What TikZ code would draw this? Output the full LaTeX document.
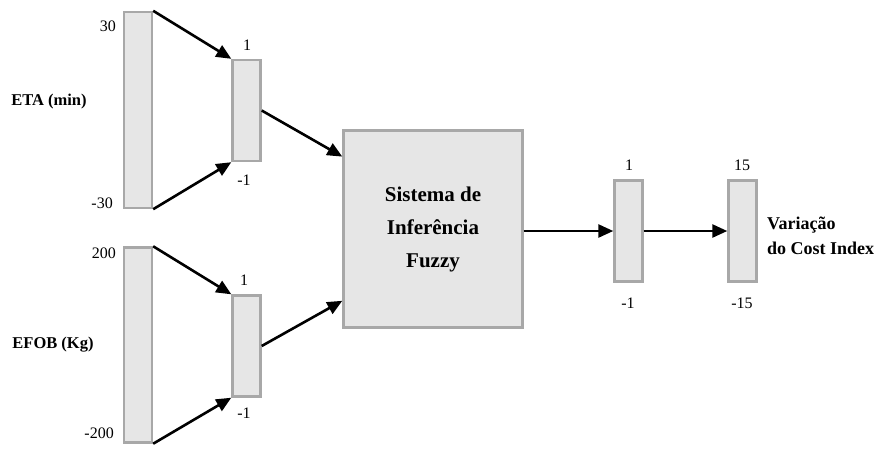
\documentclass[tikz,border=0pt]{standalone}
\usepackage{fontspec}
\setmainfont{Liberation Serif}
\usetikzlibrary{arrows.meta,calc}
\definecolor{barfill}{HTML}{E6E6E6}
\definecolor{barline}{HTML}{A8A8A8}
\begin{document}
\begin{tikzpicture}[x=1pt,y=-1pt,
 bar/.style={draw=barline,fill=barfill,line width=2.4pt,inner sep=0pt,minimum width=28pt},
 arr/.style={line width=2.6pt,-{Triangle[length=15pt,width=13pt]}},
 num/.style={font=\fontsize{16}{18}\selectfont,inner sep=0pt},
 lab/.style={font=\bfseries\fontsize{16.5}{20}\selectfont,inner sep=0pt}]
\useasboundingbox (0,0) rectangle (889,448);
% bars
\node[bar,minimum height=196pt] (b1) at (138,110) {};
\node[bar,minimum height=101pt] (b1s) at (246.5,110.5) {};
\node[bar,minimum height=195pt] (b2) at (138,345) {};
\node[bar,minimum height=101pt] (b2s) at (246.5,346) {};
\node[bar,minimum width=179pt,minimum height=197pt,align=center,
      font=\bfseries\fontsize{21}{33}\selectfont] (sys) at (433,229)
      {Sistema de\\Inferência\\Fuzzy};
\node[bar,minimum height=101pt] (b3) at (628.5,231) {};
\node[bar,minimum height=101pt] (b4) at (742.5,231) {};
% coordinates on system box
\coordinate (sysin1) at ($(sys.north west)!0.137!(sys.south west)$);
\coordinate (sysin2) at ($(sys.north west)!0.86!(sys.south west)$);
\coordinate (sysout) at (sys.east |- b3.west);
% arrows
\draw[arr] (b1.north east) -- (b1s.north west);
\draw[arr] (b1.south east) -- (b1s.south west);
\draw[arr] (b2.north east) -- (b2s.north west);
\draw[arr] (b2.south east) -- (b2s.south west);
\draw[arr] (b1s.east) -- (sysin1);
\draw[arr] (b2s.east) -- (sysin2);
\draw[arr] (sysout) -- (b3.west);
\draw[arr] (b3.east) -- (b4.west);
% numbers
\node[num,anchor=east] (t30) at (116,26) {30};
\node[num,anchor=east] (tm30) at (113,203) {-30};
\node[num,anchor=east] (t200) at (116,253) {200};
\node[num,anchor=east] (tm200) at (114,433) {-200};
\node[num] (t1a) at (247,45) {1};
\node[num] (tm1a) at (244,180) {-1};
\node[num] (t1b) at (244,280) {1};
\node[num] (tm1b) at (244,413) {-1};
\node[num] (t1c) at (629,165) {1};
\node[num] (tm1c) at (628,303) {-1};
\node[num] (t15) at (742,165) {15};
\node[num] (tm15) at (742,303) {-15};
% labels
\node[lab] (eta) at (49,102) {ETA (min)};
\node[lab] (efob) at (53,345) {EFOB (Kg)};
\node[anchor=west,align=left,inner sep=0pt,font=\bfseries\fontsize{18}{25}\selectfont] (var) at (767,235.5)
  {Variação\\do Cost Index};
\end{tikzpicture}
\end{document}
